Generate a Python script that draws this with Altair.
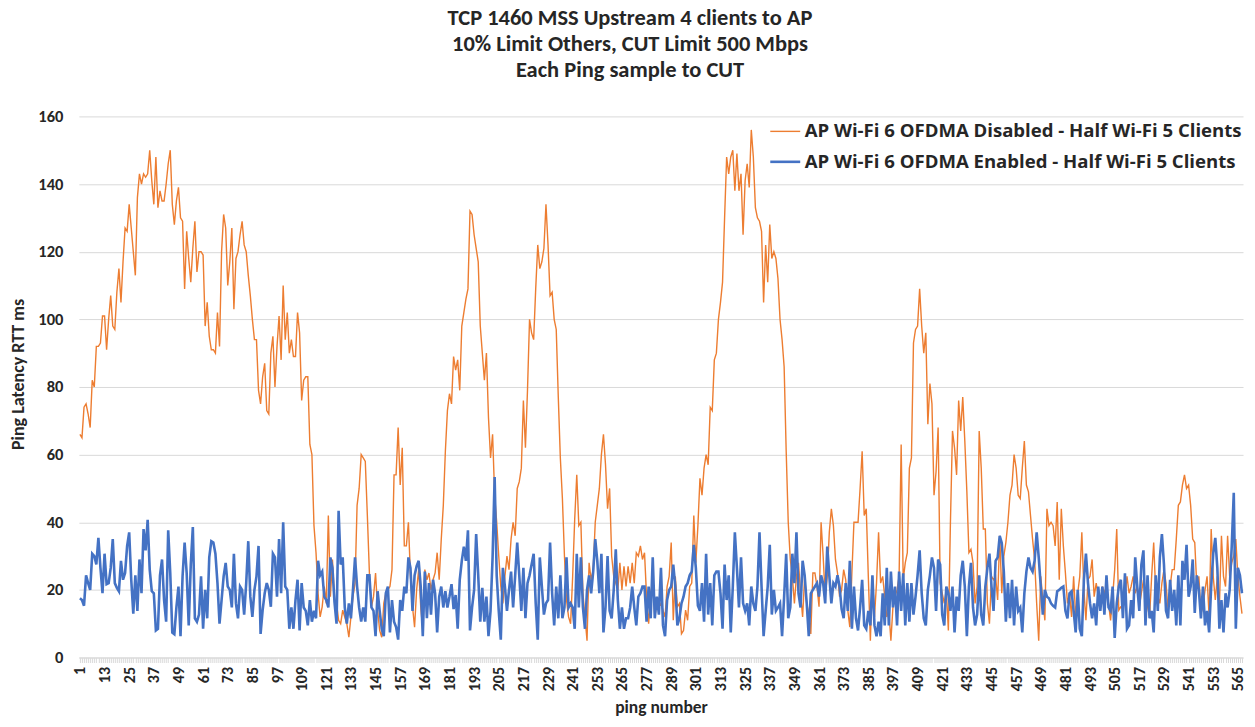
import altair as alt
import pandas as pd

title_lines = ["TCP 1460 MSS Upstream 4 clients to AP",
               "10% Limit Others, CUT Limit 500 Mbps",
               "Each Ping sample to CUT"]
series_names = ["AP Wi-Fi 6 OFDMA Disabled - Half Wi-Fi 5 Clients",
                "AP Wi-Fi 6 OFDMA Enabled - Half Wi-Fi 5 Clients"]
series_colors = ["#ED7D31", "#4472C4"]
series_widths = [1.4, 2.6]
y_ticks = [0, 20, 40, 60, 80, 100, 120, 140, 160]

disabled = [
    66, 65, 74, 75, 72, 68, 82, 80, 92, 92,
    93, 101, 101, 91, 100, 107, 98, 97, 108, 115,
    105, 117, 127, 126, 134, 127, 120, 113, 136, 143,
    140, 143, 142, 143, 150, 141, 134, 148, 133, 138,
    135, 135, 140, 146, 150, 134, 128, 135, 139, 130,
    129, 109, 126, 118, 111, 121, 129, 114, 120, 120,
    119, 98, 105, 95, 91, 91, 90, 102, 92, 120,
    131, 127, 110, 117, 127, 103, 118, 120, 125, 129,
    122, 120, 113, 107, 100, 94,
    94, 79, 75, 83, 87, 73, 72, 90, 95, 80,
    92, 101, 88, 110, 94, 102, 90, 94, 89, 89,
    102, 96, 76, 82, 83, 83, 63, 60, 39, 31,
    19, 12, 15, 21, 16, 42, 18, 29, 17, 16,
    11, 10, 14, 12, 10, 6, 12, 18, 22, 45,
    50, 60, 59, 58, 42, 25, 15, 18, 25, 14,
    8, 6, 16, 19, 20, 21, 26, 54, 54, 68,
    51, 62, 33, 33, 40, 24, 15, 9, 20, 26,
    15, 8, 26, 23, 25, 20, 23, 25, 31, 23,
    35, 45, 61, 73, 78,
    75, 89, 85, 88, 79, 98, 102, 106, 109, 132,
    131, 125, 121, 117, 98, 90, 82, 90, 71, 59,
    66, 48, 40, 30, 21, 16, 24, 30, 26, 35,
    40, 36, 50, 52, 56, 76, 62, 79, 100, 96,
    94, 109, 122, 115, 117, 121, 134, 122, 107, 108,
    100, 97, 77, 59, 47, 30, 17, 12, 10, 24,
    41, 54, 39, 40, 19, 12, 5, 28, 23, 26,
    40, 45, 50, 60, 66, 57, 44, 50, 30, 24,
    22, 20, 28, 20, 27, 21, 27, 22, 28, 22,
    31, 30, 33, 29, 31,
    18, 10, 18, 24, 12, 16, 15, 16, 14, 12,
    21, 24, 34, 11, 24, 15, 16, 7, 8, 14,
    11, 21, 22, 42, 28, 39, 53, 48, 56, 60,
    57, 74, 73, 88, 90, 100, 105, 111, 130, 148,
    143, 148, 150, 138, 149, 138, 143, 125, 141, 146,
    139, 156, 148, 133, 130, 129, 126, 105, 122, 111,
    128, 118, 120, 118, 112, 100, 94, 86, 61, 40,
    29, 24, 16, 24, 28, 19, 12, 24, 16, 13,
    7, 25, 25, 21, 15, 40, 30, 18, 24, 37,
    44, 39, 29, 25,
    18, 20, 26, 23, 14, 9, 25, 40, 40, 40,
    50, 61, 42, 44, 24, 5, 24, 12, 22, 37,
    22, 24, 18, 12, 14, 5, 15, 18, 20, 24,
    63, 23, 28, 31, 56, 59,
    93, 97, 98, 109, 98, 90, 96, 69, 81, 75,
    48, 55, 68, 22, 19, 16, 20, 8, 40, 67,
    62, 54, 76, 67, 77, 64, 49, 31, 32, 28,
    16, 21, 67, 56, 38, 38, 16, 10, 24, 23,
    24, 17, 36, 19, 30, 34, 40, 48, 51, 60,
    56, 48, 47, 56, 64, 51, 49, 42, 35,
    29, 16, 5, 24, 17, 11, 44, 39, 40, 39,
    33, 46, 23, 44, 33, 25, 16, 19, 12, 24,
    12, 19, 24, 37, 20, 11, 23, 24, 29, 18,
    22, 18, 14, 21, 19, 21, 16, 11, 18, 26,
    38, 14, 15, 15, 18, 24, 19, 21, 24, 19,
    21, 15, 19, 23, 18, 15, 12, 24, 34, 19,
    18, 16, 22, 26, 22, 14, 21, 26, 26, 35,
    45, 46, 51, 54, 50, 51, 45, 35, 34, 21,
    24, 13, 15, 20, 24, 12, 38, 24, 17, 24,
    15, 36, 24, 21, 36, 24, 28, 30, 35, 24,
    18, 13,
]

enabled = [
    17.5, 17, 15.3, 24.3, 22, 20, 30.7, 30, 27.5, 35.4,
    26.5, 19, 30.7, 21.7, 22, 26.5, 35, 22, 20.6, 19.6,
    28.6, 23, 25, 33, 37, 23, 13, 24.3, 13.8, 29,
    19, 38, 31.7, 40.7, 26, 19.6, 19, 8, 8.5, 24.3,
    29, 17, 10.6, 37.6, 25, 7.4, 6.9, 14.8, 21, 6.3,
    24, 34, 25, 9.5, 27.5, 38.6, 11.6, 10.6, 12.7, 24,
    8.5, 20, 11.6, 29.6, 34.4, 34, 30.7, 22, 10, 17,
    24, 28, 21, 20, 14.8, 30.7, 16, 11.6, 21, 20,
    12.7, 22, 34.4, 18, 12,
    20, 24, 33, 7, 14, 19, 22, 20, 15, 30.7, 29.6, 18, 35, 19, 40,
    21, 20, 8.5, 14.8, 8.5, 17, 23, 8, 22, 14.8,
    13.8, 9.5, 17, 10.6, 13.8, 11.6, 28.6, 24.3, 25.4, 18,
    17, 14.8, 29.6, 26.5, 16.4, 10, 43.4,
    27.5, 29.6, 14.8, 10, 16, 11.6, 20, 29.6, 21, 14.8,
    10.6, 14.8, 10.6, 24.3, 24.3, 14.8, 13.8, 6.3, 19.6, 13.8,
    8.5, 6.3, 19, 21, 7.4, 17, 10.6, 9, 5.3, 17,
    13.8, 21, 19, 29.6, 26.5, 13.8, 24.3, 27, 28.6, 21,
    6.3, 25.4, 11.6, 22, 12.7, 23, 19, 7.4, 18, 21,
    14.8, 19.6, 14.8,
    18, 21.7, 14.3, 18.5, 8.5, 23, 28.6, 32.8, 28.6, 37.6,
    8, 14.8, 20, 36.5, 24.3, 10.6, 20.6, 10.6, 18, 6.3,
    13.8, 29.6, 53.4,
    24.3, 13.8, 5.3, 26.5, 21, 13.8, 20, 25.4, 14.8, 24.3,
    34, 24.3, 13.8, 26.5, 11.6, 22, 24.3, 27.5, 30.7, 16,
    5.3, 29.6, 21, 12.7, 16, 17, 34, 19, 9.5, 21,
    11.6, 24.3, 11.6, 14.8, 29.6, 14.8, 16, 14.8, 8.5, 30.7,
    14.8, 29.6, 14.8, 8.5, 20, 24.3, 19, 25.4, 35, 28.6,
    19, 30.7, 7.4, 14.8, 30, 13.8, 11.6, 20, 32, 17,
    8.5, 14.8, 8.5, 11.6, 11.6, 14.8, 21, 14.8, 9.5, 18, 19, 21,
    21, 10.6, 21, 11.6, 29.6, 11.6, 18, 12.7, 26.5, 9.5,
    6.3, 17, 20, 21, 27.5, 21, 9.5, 11.6, 16, 18,
    21, 22, 24.3, 25.4, 33.3, 26.5, 15.3, 13.8, 22, 10.6,
    30.7, 12.7, 22, 9.5, 24.3, 25.4, 25.4, 19, 8.5, 27.5,
    17, 24.3, 7.4, 21, 37, 26.5, 14.8, 29.6, 16, 13.8,
    16, 9.5, 21, 16, 13.8, 21, 37, 21, 6.3, 13.8,
    21, 33.3, 12.7, 20, 13.8, 14.8, 16, 6.3, 18, 30.7,
    11.6, 14.8, 30.7, 22, 37, 19, 14.8, 28.6, 24.3, 16,
    6.3, 19, 20, 21, 22, 18, 24.3, 22, 16, 32.8,
    24.3, 16, 22, 21, 24.3,
    21, 14.3, 11.6, 22, 13.8, 28.6, 8.5, 21, 11.6, 8,
    14.8, 23, 9.5, 8.5, 13.8, 9.5, 24.3, 9.5, 6.3, 10.6,
    6.3, 19, 9.5, 26.5, 9.5, 25.4, 14.8, 21, 9.5, 25.4,
    13.8, 24.9, 9.5, 22, 10.6, 22, 12.7, 18, 24.3, 31.7,
    19, 11.6, 9.5, 20, 24.3, 29.6, 26.5, 13.8, 29, 27.5,
    12.7, 9.5, 21, 19, 13.8, 21, 7.4, 18, 13.8, 24.3,
    28.6, 21, 6.3, 21, 28, 14.8, 9.5, 12.7, 24.3, 12.7,
    9.5, 21, 26.5, 30.7, 21, 13.8, 28.6, 29.6, 36, 33.9,
    25.4, 10.6, 22, 11.6, 23, 9.5, 21, 13.8, 14.8, 7.4,
    19, 25.4, 29.6, 26.5, 25.4,
    28.6, 37, 29.6, 21, 12.7, 20, 18, 17.5, 16, 15.3,
    14.8, 19.6, 20, 20.6, 21, 13.8, 11.6, 19, 19.6, 13.8,
    7.4, 20, 8.5, 6.3, 23, 30.7, 22, 16, 11.6, 16,
    9.5, 21, 13.8, 21, 12.7, 24.3, 14.8, 13.8, 21, 5.8,
    16, 21, 23, 11.6, 24.9, 8.5, 9.5, 17, 11.6, 29.6,
    21, 13.8, 27.5, 31.7, 9.5, 24.3, 11.6, 13.8, 7.4, 24.3,
    13.8, 29.6, 36.5, 27.5, 13.8, 11.6, 23, 13.8, 20, 9.5,
    24.3, 9.5, 28.6, 23, 33.3, 18, 21, 29, 13.2, 24.3,
    20, 11.6, 21, 9.5, 13.8, 7.4, 21, 30.7, 35.4, 26.5,
    8.5, 17, 7.4, 19, 14.8, 20, 32.8, 48.7, 8.5, 26.5,
    24.3, 19,
]

rows = []
for i, v in enumerate(disabled):
    rows.append({"ping": i + 1, "rtt": v, "series": series_names[0]})
for i, v in enumerate(enabled):
    rows.append({"ping": i + 1, "rtt": v, "series": series_names[1]})
df = pd.DataFrame(rows)

n_max = max(len(disabled), len(enabled))
x_values = list(range(1, n_max + 1))

FONT = "Carlito, 'Liberation Sans Narrow', Lato, sans-serif"
LEG_FONT = "'Open Sans', 'Noto Sans', sans-serif"
TXT = "#262626"

x_enc = alt.X("ping:Q",
              scale=alt.Scale(domain=[0.5, n_max + 0.5], nice=False, zero=False),
              axis=alt.Axis(values=x_values,
                            labelExpr="(datum.value - 1) % 12 == 0 ? datum.label : ''",
                            labelAngle=-90, labelAlign="right", labelBaseline="middle",
                            labelOverlap=False, labelFlush=False, labelPadding=4,
                            labelFont=FONT, labelFontSize=16, labelFontWeight="bold",
                            labelColor=TXT,
                            tickSize=5, tickColor="#d9d9d9", tickWidth=1,
                            domainColor="#d9d9d9", domainWidth=1, grid=False,
                            title="ping number", titleFont=FONT, titleFontSize=17.5,
                            titleFontWeight="bold", titleColor=TXT,
                            titleX=583, titleY=50, titleBaseline="middle"))
y_enc = alt.Y("rtt:Q",
              scale=alt.Scale(domain=[0, 160], nice=False),
              axis=alt.Axis(values=y_ticks, grid=True, gridColor="#d9d9d9", gridWidth=1,
                            domain=False, ticks=False, labelPadding=16,
                            labelFont=FONT, labelFontSize=16.5, labelFontWeight="bold",
                            labelColor=TXT,
                            title="Ping Latency RTT ms", titleFont=FONT, titleFontSize=18,
                            titleFontWeight="bold", titleColor=TXT,
                            titleX=-60, titleY=258, titleAngle=-90,
                            titleBaseline="middle", titleAlign="center"))

legend = alt.Legend(title=None, orient="none", legendX=691, legendY=-1,
                    symbolType="stroke", symbolSize=900,
                    labelFont=LEG_FONT, labelFontSize=18.6,
                    labelFontWeight="bold", labelColor=TXT,
                    labelLimit=700, labelOffset=3, rowPadding=4, padding=0)
color_enc = alt.Color("series:N",
                      scale=alt.Scale(domain=series_names, range=series_colors),
                      legend=legend)
width_enc = alt.StrokeWidth("series:N",
                            scale=alt.Scale(domain=series_names, range=series_widths),
                            legend=legend)

base = alt.Chart(df).encode(x=x_enc, y=y_enc, color=color_enc, strokeWidth=width_enc)
orange = base.transform_filter(alt.datum.series == series_names[0]).mark_line()
blue = base.transform_filter(alt.datum.series == series_names[1]).mark_line()

chart = alt.layer(orange, blue).properties(
    width=1166, height=542,
    autosize=alt.AutoSizeParams(type="none"),
    padding={"left": 71, "top": 108, "right": 4, "bottom": 61},
    title=alt.TitleParams(text=title_lines, anchor="middle", frame="bounds",
                          font=FONT, fontSize=22.5, fontWeight="bold", color=TXT,
                          lineHeight=26, offset=27),
).configure_view(stroke=None)

chart.save("out.html", embed_options={"renderer": "svg", "actions": False})
